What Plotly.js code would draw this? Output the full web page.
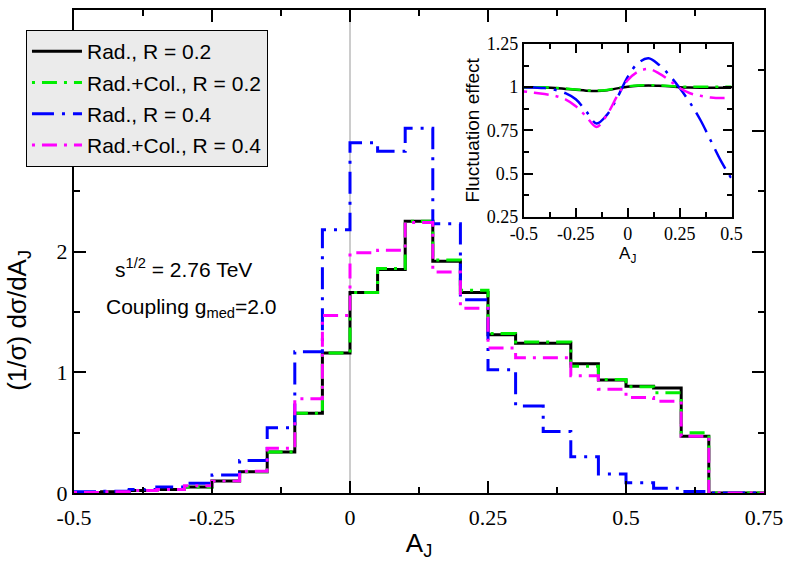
<!DOCTYPE html>
<html>
<head>
<meta charset="utf-8">
<script src="https://cdn.plot.ly/plotly-3.0.1.min.js"></script>
<style>html,body{margin:0;padding:0;background:#fff}#chart{width:789px;height:562px}</style>
</head>
<body>
<div id="chart"></div>
<script>
// Bin edges of the A_J histogram (width 0.05)
const binEdges = [-0.5,-0.45,-0.4,-0.35,-0.3,-0.25,-0.2,-0.15,-0.1,-0.05,0,0.05,0.1,0.15,0.2,0.25,0.3,0.35,0.4,0.45,0.5,0.55,0.6,0.65,0.7,0.75];

// Bin contents (1/sigma) dsigma/dA_J
const radR02    = [0.005,0.01,0.02,0.03,0.05,0.10,0.175,0.34,0.66,1.16,1.66,1.85,2.25,1.92,1.66,1.31,1.24,1.24,1.07,0.935,0.885,0.87,0.47,0,0];
const radColR02 = [0.005,0.01,0.02,0.03,0.05,0.10,0.175,0.34,0.66,1.16,1.66,1.86,2.25,1.93,1.68,1.32,1.25,1.25,1.05,0.94,0.88,0.83,0.50,0,0];
const radR04    = [0.01,0.015,0.03,0.05,0.08,0.15,0.27,0.54,1.17,2.18,2.90,2.83,3.02,2.23,1.60,1.02,0.72,0.51,0.30,0.157,0.085,0.04,0.012,0,0];
const radColR04 = [0.005,0.01,0.02,0.03,0.06,0.10,0.18,0.37,0.78,1.47,1.99,2.01,2.24,1.83,1.53,1.20,1.12,1.12,0.97,0.86,0.79,0.76,0.47,0,0];

// Inset: fluctuation effect
const insetX      = [-0.5,-0.45,-0.4,-0.35,-0.3,-0.25,-0.2,-0.15,-0.1,-0.05,0,0.05,0.1,0.15,0.2,0.25,0.3,0.35,0.4,0.45,0.5];
const fluctR02    = [1.0,1.0,0.998,0.995,0.99,0.985,0.98,0.978,0.982,0.993,1.003,1.008,1.01,1.008,1.005,1.0,0.998,0.997,0.997,0.997,0.997];
const fluctColR02 = [1.0,1.0,0.999,0.996,0.992,0.987,0.982,0.98,0.984,0.995,1.005,1.01,1.012,1.01,1.007,1.003,1.002,1.002,1.002,1.003,1.003];
const fluctR04    = [1.0,0.998,0.995,0.985,0.965,0.93,0.86,0.79,0.84,0.94,1.06,1.14,1.167,1.13,1.07,0.995,0.91,0.81,0.69,0.57,0.47];
const fluctColR04 = [0.975,0.968,0.96,0.95,0.93,0.89,0.83,0.77,0.84,0.95,1.04,1.09,1.105,1.08,1.04,0.995,0.965,0.95,0.94,0.937,0.94];

const legendNames = ["Rad., R = 0.2","Rad.+Col., R = 0.2","Rad., R = 0.4","Rad.+Col., R = 0.4"];
const mainTicksX = ['-0.5','-0.25','0','0.25','0.5','0.75'];
const mainTicksY = ['0','1','2','3','4'];
const insetTicksX = ['-0.5','-0.25','0','0.25','0.5'];
const insetTicksY = ['0.25','0.5','0.75','1','1.25'];

const colors = ["#000000","#00ee00","#0000ff","#ff00ff"];
const dashes = ["solid","3px,7px,15px,7px","22px,8px,3px,8px","3px,7px,15px,7px"];

function stepY(v){ return v.concat([v[v.length-1]]); }

const histSeries = [radR02, radColR02, radR04, radColR04];
const inSeries = [fluctR02, fluctColR02, fluctR04, fluctColR04];

const traces = [];
histSeries.forEach((s,i)=>{
  traces.push({x: binEdges, y: stepY(s), type:'scatter', mode:'lines', name: legendNames[i],
    line:{shape:'hv', color: colors[i], width:3, dash: dashes[i]}, xaxis:'x', yaxis:'y', legendgroup:'g'+i});
});
inSeries.forEach((s,i)=>{
  traces.push({x: insetX, y: s, type:'scatter', mode:'lines', showlegend:false,
    line:{shape:'spline', color: colors[i], width:2.5, dash: dashes[i]}, xaxis:'x2', yaxis:'y2'});
});

const serif = "Liberation Serif, Times New Roman, serif";
const sans = "Liberation Sans, Arial, sans-serif";

const layout = {
  width:789, height:562,
  margin:{l:74, r:25, t:10, b:69},
  paper_bgcolor:'#ffffff', plot_bgcolor:'#ffffff',
  showlegend:true,
  legend:{x:-0.0696, y:0.9586, xanchor:'left', yanchor:'top', bgcolor:'#ebebeb', bordercolor:'#000', borderwidth:1,
    font:{family:sans, size:21, color:'#000'}, itemwidth:50, tracegroupgap:1, traceorder:'grouped'},
  xaxis:{domain:[0,1], range:[-0.5,0.75], anchor:'y', showgrid:false, zeroline:false,
    showline:true, linecolor:'#000', linewidth:2, mirror:'allticks',
    ticks:'inside', ticklen:12, tickwidth:2, tickcolor:'#000', ticklabelstandoff:4,
    tickvals:[-0.5,-0.25,0,0.25,0.5,0.75], ticktext:mainTicksX,
    minor:{dtick:0.125, tick0:0, ticks:'inside', ticklen:6, tickwidth:2, tickcolor:'#000'},
    tickfont:{family:serif, size:22, color:'#000'},
    title:{text:'A<sub>J</sub>', font:{family:sans, size:26, color:'#000'}, standoff:4}},
  yaxis:{domain:[0,1], range:[0,4], anchor:'x', showgrid:false, zeroline:false,
    showline:true, linecolor:'#000', linewidth:2, mirror:'allticks',
    ticks:'inside', ticklen:12, tickwidth:2, tickcolor:'#000',
    tickvals:[0,1,2,3,4], ticktext:mainTicksY,
    minor:{dtick:0.5, tick0:0, ticks:'inside', ticklen:6, tickwidth:2, tickcolor:'#000'},
    tickfont:{family:serif, size:22, color:'#000'}},
  xaxis2:{domain:[0.652,0.953], range:[-0.5,0.5], anchor:'y2', showgrid:false, zeroline:false,
    showline:true, linecolor:'#000', linewidth:2, mirror:'allticks',
    ticks:'inside', ticklen:9, tickwidth:2, tickcolor:'#000',
    tickvals:[-0.5,-0.25,0,0.25,0.5], ticktext:insetTicksX,
    minor:{dtick:0.125, tick0:0, ticks:'inside', ticklen:5, tickwidth:2, tickcolor:'#000'},
    tickfont:{family:serif, size:18, color:'#000'},
    title:{text:'A<sub>J</sub>', font:{family:sans, size:17, color:'#000'}, standoff:2}},
  yaxis2:{domain:[0.572,0.9296], range:[0.25,1.25], anchor:'x2', showgrid:false, zeroline:false,
    showline:true, linecolor:'#000', linewidth:2, mirror:'allticks',
    ticks:'inside', ticklen:9, tickwidth:2, tickcolor:'#000',
    tickvals:[0.25,0.5,0.75,1,1.25], ticktext:insetTicksY,
    minor:{dtick:0.125, tick0:0, ticks:'inside', ticklen:5, tickwidth:2, tickcolor:'#000'},
    tickfont:{family:serif, size:18, color:'#000'},
    title:{text:'Fluctuation effect', font:{family:sans, size:19, color:'#000'}, standoff:2}},
  shapes:[
    {type:'rect', xref:'x2 domain', yref:'y2 domain', x0:0, x1:1, y0:0, y1:1, fillcolor:'#e8e8e8', line:{width:0}, layer:'below'},
    {type:'line', xref:'x', yref:'y', x0:0, x1:0, y0:0, y1:4, line:{color:'#cccccc', width:2}, layer:'below'}
  ],
  annotations:[
    {xref:'paper', yref:'paper', x:-0.0815, y:0.358, xanchor:'center', yanchor:'middle', textangle:-90, showarrow:false,
     text:'(1/σ) dσ/dA<sub>J</sub>', font:{family:sans, size:26, color:'#000'}},
    {xref:'x', yref:'y', x:-0.4293, y:1.863, xanchor:'left', yanchor:'middle', showarrow:false,
     text:'s<sup>1/2</sup> = 2.76 TeV', font:{family:sans, size:21, color:'#000'}},
    {xref:'x', yref:'y', x:-0.4457, y:1.532, xanchor:'left', yanchor:'middle', showarrow:false,
     text:'Coupling g<sub>med</sub>=2.0', font:{family:sans, size:21, color:'#000'}}
  ]
};

Plotly.newPlot('chart', traces, layout, {displayModeBar:false, staticPlot:true});
</script>
</body>
</html>
